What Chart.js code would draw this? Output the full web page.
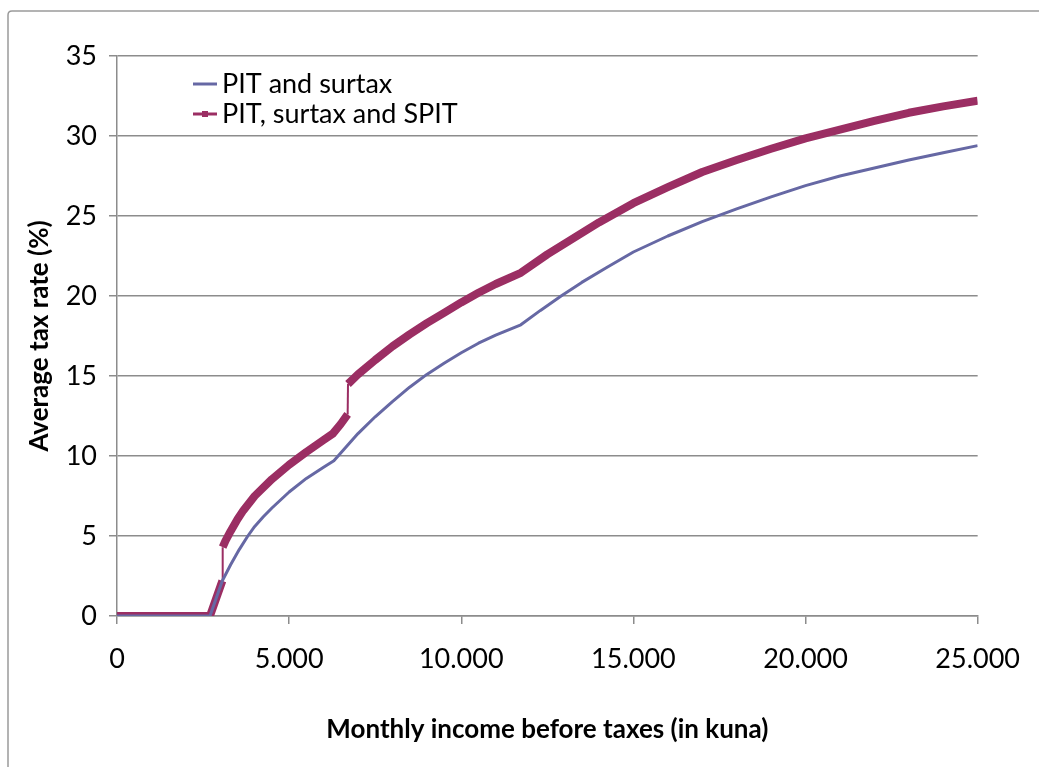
<!DOCTYPE html>
<html>
<head>
<meta charset="utf-8">
<script src="https://cdn.jsdelivr.net/npm/chart.js@4"></script>
<style>
    body { margin: 0; background: #fff; }
    #container-grafico { width: 1039px; height: 767px; position: relative; }
</style>
</head>
<body>
<div id="container-grafico"><canvas id="grafico"></canvas></div>
<script>
// PIT and surtax
let rendaPit = [0, 2700, 3060, 3300, 3550, 3800, 4000, 4250, 4500, 5000, 5500, 6000, 6300, 7000, 7500, 8000, 8500, 9000, 9500, 10000, 10500, 11000, 11730, 12300, 12900, 13500, 14200, 15000, 16000, 17000, 18000, 19000, 20000, 21000, 22000, 23000, 24000, 25000];
let taxaPit = [0, 0, 2.2, 3.2, 4.15, 5.0, 5.6, 6.2, 6.75, 7.75, 8.6, 9.3, 9.7, 11.4, 12.45, 13.4, 14.3, 15.1, 15.8, 16.45, 17.05, 17.55, 18.2, 19.1, 20.0, 20.85, 21.75, 22.75, 23.75, 24.65, 25.45, 26.2, 26.9, 27.5, 28.0, 28.5, 28.95, 29.4];

// PIT, surtax and SPIT
let rendaSpit = [0, 2700, 3060, 3070, 3150, 3300, 3500, 3670, 4000, 4500, 5000, 5500, 6000, 6270, 6500, 6700, 6710, 7000, 7500, 8000, 8500, 9000, 9500, 10000, 10500, 11000, 11730, 12500, 13250, 14000, 15000, 16000, 17000, 18000, 19000, 20000, 21000, 22000, 23000, 24000, 25000];
let taxaSpit = [0, 0, 2.2, 4.3, 4.7, 5.3, 6.05, 6.6, 7.5, 8.55, 9.45, 10.25, 11.0, 11.4, 12.0, 12.6, 14.5, 15.1, 16.0, 16.85, 17.6, 18.3, 18.95, 19.6, 20.2, 20.75, 21.45, 22.6, 23.6, 24.6, 25.8, 26.8, 27.75, 28.5, 29.2, 29.85, 30.4, 30.95, 31.45, 31.85, 32.2];

let nomesSeries = ['PIT and surtax', 'PIT, surtax and SPIT'];
let coresSeries = ['#6668a4', '#9b2e63'];

const fonte = 'Lato, "Open Sans", sans-serif';

function pontos(xs, ys) {
    return xs.map((x, i) => ({ x: x, y: ys[i] }));
}

function formatarMilhar(v) {
    return v.toLocaleString('de-DE');
}

// moldura e legenda desenhadas a mao
const extras = {
    id: 'extras',
    beforeDraw(chart) {
        const ctx = chart.ctx;
        ctx.save();
        ctx.strokeStyle = '#9a9a9a';
        ctx.lineWidth = 1.5;
        ctx.beginPath();
        ctx.moveTo(1039, 11);
        ctx.lineTo(12, 11);
        ctx.quadraticCurveTo(8, 11, 8, 15);
        ctx.lineTo(8, 767);
        ctx.stroke();
        ctx.restore();
    },
    afterDraw(chart) {
        const ctx = chart.ctx;
        ctx.save();
        ctx.font = '27px ' + fonte;
        ctx.textBaseline = 'middle';
        ctx.fillStyle = '#000';
        let linhas = [84, 114];
        for (let i = 0; i < 2; i++) {
            let y = linhas[i];
            ctx.strokeStyle = coresSeries[i];
            ctx.lineWidth = 3;
            ctx.beginPath();
            ctx.moveTo(193, y);
            ctx.lineTo(217, y);
            ctx.stroke();
            if (i == 1) {
                ctx.fillStyle = coresSeries[i];
                ctx.fillRect(202, y - 3, 6, 6);
                ctx.fillStyle = '#000';
            }
            ctx.fillText(nomesSeries[i], 222, y);
        }
        ctx.restore();
    }
};

const context = document.getElementById('grafico').getContext('2d');

new Chart(context, {
    type: 'line',
    data: {
        datasets: [
            {
                label: nomesSeries[0],
                data: pontos(rendaPit, taxaPit),
                borderColor: coresSeries[0],
                borderWidth: 3,
                borderJoinStyle: 'round',
                pointRadius: 0,
                tension: 0,
                fill: false,
            },
            {
                label: nomesSeries[1],
                data: pontos(rendaSpit, taxaSpit),
                borderColor: coresSeries[1],
                borderWidth: 8,
                borderJoinStyle: 'round',
                pointRadius: 0,
                tension: 0,
                fill: false,
                segment: {
                    // os saltos ficam finos como no original
                    borderWidth: c => (c.p1.parsed.x - c.p0.parsed.x < 50 ? 2 : 8),
                },
            },
        ],
    },
    options: {
        responsive: true,
        maintainAspectRatio: false,
        animation: false,
        layout: {
            padding: { top: 56, right: 58, left: 0, bottom: 0 },
        },
        plugins: {
            legend: { display: false },
            tooltip: { enabled: false },
        },
        scales: {
            x: {
                type: 'linear',
                min: 0,
                max: 25000,
                afterFit: s => { s.height = 151; },
                ticks: {
                    stepSize: 5000,
                    color: '#000',
                    padding: 19,
                    maxRotation: 0,
                    font: { family: fonte, size: 27 },
                    callback: v => formatarMilhar(v),
                },
                grid: {
                    drawOnChartArea: false,
                    drawTicks: true,
                    tickLength: 8,
                    color: '#8c8c8c',
                    lineWidth: 1.5,
                },
                border: { color: '#8c8c8c', width: 1.5 },
                title: {
                    display: true,
                    text: 'Monthly income before taxes (in kuna)',
                    color: '#000',
                    font: { family: fonte, size: 26, weight: 'bold' },
                    padding: { top: 0, bottom: 22 },
                },
            },
            y: {
                min: 0,
                max: 35,
                afterFit: s => { s.width = 117; },
                ticks: {
                    stepSize: 5,
                    color: '#000',
                    padding: 12,
                    font: { family: fonte, size: 27 },
                },
                grid: {
                    color: '#8c8c8c',
                    lineWidth: 1.5,
                    tickLength: 8,
                },
                border: { color: '#8c8c8c', width: 1.5 },
                title: {
                    display: true,
                    text: 'Average tax rate (%)',
                    color: '#000',
                    font: { family: fonte, size: 26, weight: 'bold' },
                    padding: { top: 24, bottom: 0 },
                },
            },
        },
    },
    plugins: [extras],
});
</script>
</body>
</html>
